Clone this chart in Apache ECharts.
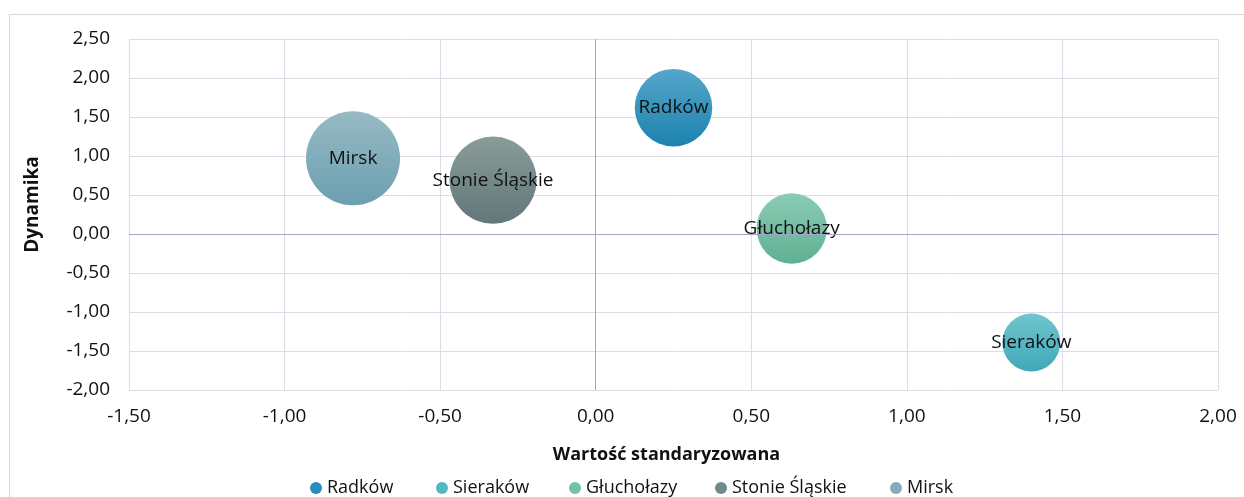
<!DOCTYPE html>
<html>
<head>
<meta charset="utf-8">
<script src="https://cdn.jsdelivr.net/npm/echarts@6/dist/echarts.min.js"></script>
<style>
html,body{margin:0;padding:0;background:#fff;}
#c{width:1244px;height:497px;}
</style>
</head>
<body>
<div id="c"></div>
<script>
// ---- data ----
const names = ['Radków', 'Sieraków', 'Głuchołazy', 'Stonie Śląskie', 'Mirsk'];
const xValues = [0.25, 1.40, 0.63, -0.33, -0.78];      // Wartość standaryzowana
const yValues = [1.62, -1.39, 0.07, 0.69, 0.97];       // Dynamika
const bubbleValues = [68, 38, 56, 86, 100];            // bubble size (relative)
const xTicks = { min: -1.5, max: 2.0, step: 0.5 };
const yTicks = { min: -2.0, max: 2.5, step: 0.5 };
const xTitle = 'Wartość standaryzowana';
const yTitle = 'Dynamika';

// ---- styles ----
const topColors = ['#55a6ca', '#6fc5ce', '#8acbb3', '#899c99', '#96bac4'];
const bottomColors = ['#1c83ae', '#40a9b7', '#5fb194', '#62777a', '#6c9fb0'];
const legendColors = ['#2a8dbd', '#54b8c3', '#74c2a5', '#73888a', '#86acb9'];
const FONT = 'Open Sans';
const maxDiameter = 94;
const fmt = v => v.toFixed(2).replace('.', ',');

const bubbleSeries = names.map((n, i) => ({
  name: n,
  type: 'scatter',
  z: 3,
  data: [[xValues[i], yValues[i], bubbleValues[i]]],
  symbolSize: v => maxDiameter * Math.sqrt(v[2] / 100),
  itemStyle: {
    opacity: 1,
    color: new echarts.graphic.LinearGradient(0, 0, 0, 1, [
      { offset: 0, color: topColors[i] },
      { offset: 1, color: bottomColors[i] }
    ])
  },
  label: {
    show: true,
    position: 'inside',
    formatter: () => n,
    color: '#111',
    fontFamily: FONT,
    fontSize: 19
  },
  emphasis: { disabled: true }
}));

const zeroLines = {
  type: 'scatter',
  name: '_zero',
  z: 1,
  data: [],
  silent: true,
  markLine: {
    silent: true,
    symbol: 'none',
    animation: false,
    label: { show: false },
    lineStyle: { color: '#a7a4c6', width: 1, type: 'solid' },
    data: [{ xAxis: 0 }, { yAxis: 0 }]
  }
};

const legendLefts = [305, 431, 564, 710, 885];
const legends = names.map((n, i) => ({
  data: [{ name: n, itemStyle: { color: legendColors[i] } }],
  left: legendLefts[i],
  top: 474,
  icon: 'circle',
  itemWidth: 12,
  itemHeight: 12,
  itemGap: 0,
  textStyle: { fontFamily: FONT, fontSize: 18, color: '#111' },
  selectedMode: false
}));

const chart = echarts.init(document.getElementById('c'), null, { renderer: 'canvas' });
chart.setOption({
  animation: false,
  backgroundColor: '#fff',
  grid: { left: 129, right: 26, top: 39, bottom: 107, containLabel: false },
  graphic: [{
    type: 'rect',
    shape: { x: 9.5, y: 14.5, width: 1400, height: 700 },
    style: { fill: 'none', stroke: '#d9d9d9', lineWidth: 1 },
    z: -1, silent: true
  }],
  xAxis: {
    type: 'value',
    min: xTicks.min, max: xTicks.max, interval: xTicks.step,
    axisLine: { show: false }, axisTick: { show: false },
    splitLine: { show: true, lineStyle: { color: '#dcdce6', width: 1 } },
    axisLabel: { formatter: fmt, fontFamily: FONT, fontSize: 19, color: '#111', margin: 17 },
    name: xTitle, nameLocation: 'middle', nameGap: 56,
    nameTextStyle: { fontFamily: FONT, fontSize: 18, fontWeight: 'bold', color: '#111', padding: [0, 14, 0, 0] }
  },
  yAxis: {
    type: 'value',
    min: yTicks.min, max: yTicks.max, interval: yTicks.step,
    axisLine: { show: false }, axisTick: { show: false },
    splitLine: { show: true, lineStyle: { color: '#dcdce6', width: 1 } },
    axisLabel: { formatter: fmt, fontFamily: FONT, fontSize: 19, color: '#111', margin: 19 },
    name: yTitle, nameLocation: 'middle', nameGap: 87, nameRotate: 90,
    nameTextStyle: { fontFamily: FONT, fontSize: 19, fontWeight: 'bold', color: '#111', padding: [0, 0, 0, 20] }
  },
  legend: legends,
  series: [zeroLines].concat(bubbleSeries)
});
</script>
</body>
</html>
